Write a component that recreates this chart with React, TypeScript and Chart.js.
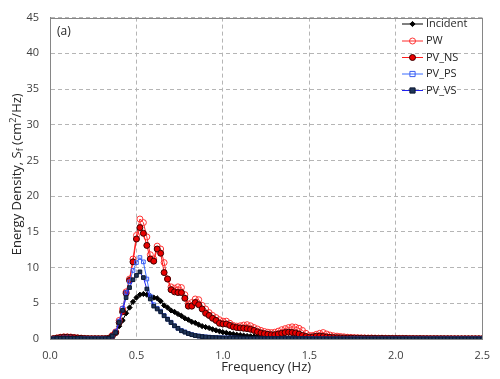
import React, { useEffect, useRef } from "react";
import { Chart, registerables } from "chart.js";

Chart.register(...registerables);

// Frequency bins: spectra sampled every 0.02 Hz starting at 0.02 Hz
const FREQ_STEP = 0.02;

const seriesNames = ["Incident", "PW", "PV_NS", "PV_PS", "PV_VS"];

const incident = [
  0.03, 0.08, 0.12, 0.15, 0.15, 0.14, 0.12, 0.1, 0.08, 0.06,
  0.05, 0.04, 0.04, 0.04, 0.04, 0.05, 0.08, 0.3, 0.9, 1.8,
  2.6, 3.6, 4.4, 5.2, 5.8, 6.2, 6.3, 6.2, 6.0, 5.8,
  5.7, 5.3, 4.7, 4.4, 4.0, 3.8, 3.5, 3.25, 2.9, 2.7,
  2.4, 2.26, 2.0, 1.8, 1.67, 1.54, 1.36, 1.22, 1.08, 0.95,
  0.86, 0.75, 0.68, 0.6, 0.55, 0.48, 0.42, 0.38, 0.34, 0.3,
  0.27, 0.24, 0.22, 0.2, 0.18, 0.17, 0.16, 0.15, 0.14, 0.13,
  0.12, 0.11, 0.1, 0.1, 0.09, 0.09, 0.08, 0.08, 0.08, 0.07,
  0.07, 0.07, 0.06, 0.06, 0.06, 0.06, 0.05, 0.05, 0.05, 0.05,
  0.05, 0.05, 0.04, 0.04, 0.04, 0.04, 0.04, 0.04, 0.04, 0.04,
  0.03, 0.03, 0.03, 0.03, 0.03, 0.03, 0.03, 0.03, 0.03, 0.03,
  0.03, 0.03, 0.03, 0.03, 0.03, 0.03, 0.03, 0.03, 0.03, 0.03,
  0.03, 0.03, 0.03, 0.03, 0.03,
];

const pw = [
  0.05, 0.15, 0.25, 0.3, 0.3, 0.28, 0.22, 0.16, 0.12, 0.08,
  0.06, 0.05, 0.05, 0.05, 0.05, 0.06, 0.1, 0.5, 1.0, 2.6,
  4.2, 6.6, 8.4, 11.2, 14.5, 16.8, 16.3, 14.3, 11.8, 11.2,
  13.0, 12.6, 10.7, 8.4, 7.3, 7.1, 7.3, 7.2, 6.2, 4.9,
  5.1, 5.6, 5.5, 4.7, 4.2, 3.7, 3.3, 3.0, 2.7, 2.5,
  2.5, 2.2, 1.9, 1.8, 1.85, 1.95, 2.0, 1.85, 1.6, 1.4,
  1.2, 1.05, 0.95, 0.9, 0.95, 1.1, 1.3, 1.45, 1.6, 1.7,
  1.65, 1.5, 1.2, 0.8, 0.5, 0.5, 0.65, 0.8, 0.9, 0.7,
  0.55, 0.45, 0.4, 0.35, 0.3, 0.25, 0.22, 0.2, 0.18, 0.16,
  0.15, 0.14, 0.14, 0.13, 0.12, 0.12, 0.11, 0.1, 0.1, 0.1,
  0.09, 0.09, 0.08, 0.08, 0.08, 0.07, 0.07, 0.07, 0.06, 0.06,
  0.06, 0.06, 0.05, 0.05, 0.05, 0.05, 0.05, 0.04, 0.04, 0.04,
  0.04, 0.04, 0.04, 0.04, 0.03,
];

const pvNS = [
  0.05, 0.12, 0.2, 0.25, 0.25, 0.22, 0.18, 0.14, 0.1, 0.07,
  0.05, 0.04, 0.04, 0.04, 0.04, 0.05, 0.1, 0.4, 0.9, 2.3,
  3.8, 6.4, 8.2, 10.8, 14.0, 15.6, 14.8, 13.1, 11.2, 10.9,
  12.6, 12.0, 9.3, 8.4, 6.9, 6.6, 6.5, 6.5, 5.7, 4.6,
  4.6, 5.1, 4.8, 4.2, 3.6, 3.3, 2.9, 2.6, 2.2, 2.1,
  2.1, 1.9, 1.7, 1.6, 1.55, 1.5, 1.45, 1.35, 1.2, 1.0,
  0.85, 0.75, 0.65, 0.6, 0.6, 0.7, 0.8, 0.9, 0.95, 0.9,
  0.85, 0.7, 0.5, 0.35, 0.25, 0.3, 0.4, 0.42, 0.35, 0.28,
  0.24, 0.2, 0.18, 0.16, 0.15, 0.14, 0.13, 0.12, 0.11, 0.1,
  0.1, 0.09, 0.09, 0.08, 0.08, 0.08, 0.07, 0.07, 0.07, 0.06,
  0.06, 0.06, 0.06, 0.05, 0.05, 0.05, 0.05, 0.05, 0.04, 0.04,
  0.04, 0.04, 0.04, 0.04, 0.04, 0.03, 0.03, 0.03, 0.03, 0.03,
  0.03, 0.03, 0.03, 0.03, 0.03,
];

const pvPS = [
  0.03, 0.08, 0.12, 0.14, 0.14, 0.12, 0.1, 0.08, 0.06, 0.05,
  0.04, 0.04, 0.04, 0.04, 0.04, 0.05, 0.08, 0.4, 1.0, 2.5,
  4.3, 6.5, 8.0, 9.6, 10.7, 11.4, 10.8, 8.4, 6.0, 4.8,
  4.3, 3.9, 3.3, 2.8, 2.35, 1.85, 1.5, 1.2, 1.0, 0.77,
  0.63, 0.5, 0.42, 0.36, 0.3, 0.26, 0.22, 0.2, 0.18, 0.16,
  0.15, 0.14, 0.13, 0.12, 0.11, 0.1, 0.1, 0.09, 0.09, 0.08,
  0.08, 0.07, 0.07, 0.07, 0.06, 0.06, 0.06, 0.06, 0.05, 0.05,
  0.05, 0.05, 0.05, 0.05, 0.05, 0.05, 0.04, 0.04, 0.04, 0.04,
  0.04, 0.04, 0.04, 0.04, 0.04, 0.04, 0.04, 0.04, 0.04, 0.04,
  0.03, 0.03, 0.03, 0.03, 0.03, 0.03, 0.03, 0.03, 0.03, 0.03,
  0.03, 0.03, 0.03, 0.03, 0.03, 0.03, 0.03, 0.03, 0.03, 0.03,
  0.03, 0.03, 0.03, 0.03, 0.03, 0.03, 0.03, 0.03, 0.03, 0.03,
  0.03, 0.03, 0.03, 0.03, 0.03,
];

const pvVS = [
  0.03, 0.07, 0.1, 0.12, 0.12, 0.1, 0.08, 0.07, 0.05, 0.04,
  0.04, 0.04, 0.04, 0.04, 0.04, 0.05, 0.08, 0.4, 0.9, 2.3,
  4.0, 5.8, 7.2, 8.3, 8.9, 9.4, 8.6, 7.0, 5.6, 4.6,
  4.2, 3.8, 3.25, 2.75, 2.3, 1.85, 1.5, 1.15, 0.95, 0.75,
  0.6, 0.48, 0.4, 0.34, 0.28, 0.24, 0.21, 0.19, 0.17, 0.15,
  0.14, 0.13, 0.12, 0.11, 0.1, 0.1, 0.09, 0.09, 0.08, 0.08,
  0.07, 0.07, 0.07, 0.06, 0.06, 0.06, 0.06, 0.05, 0.05, 0.05,
  0.05, 0.05, 0.05, 0.05, 0.04, 0.04, 0.04, 0.04, 0.04, 0.04,
  0.04, 0.04, 0.04, 0.04, 0.04, 0.04, 0.03, 0.03, 0.03, 0.03,
  0.03, 0.03, 0.03, 0.03, 0.03, 0.03, 0.03, 0.03, 0.03, 0.03,
  0.03, 0.03, 0.03, 0.03, 0.03, 0.03, 0.03, 0.03, 0.03, 0.03,
  0.03, 0.03, 0.03, 0.03, 0.03, 0.03, 0.03, 0.03, 0.03, 0.03,
  0.03, 0.03, 0.03, 0.03, 0.03,
];

const X_MIN = 0;
const X_MAX = 2.5;
const X_STEP = 0.5;
const Y_MIN = 0;
const Y_MAX = 45;
const Y_STEP = 5;

const panelLabel = "(a)";
const xTitle = "Frequency (Hz)";

const FONT = "'Open Sans', 'Noto Sans', sans-serif";
const TEXT_COLOR = "#262626";

function toPoints(vals: number[]) {
  return vals.map((v, i) => ({ x: Math.round(FREQ_STEP * (i + 1) * 100) / 100, y: v }));
}

type Sty = {
  line: string;
  style: "rectRot" | "circle" | "rect";
  r: number;
  fill: string;
  stroke: string;
};

const styles: Sty[] = [
  { line: "#000000", style: "rectRot", r: 2.6, fill: "#000000", stroke: "#000000" },
  { line: "#ff2a2a", style: "circle", r: 3, fill: "rgba(255,255,255,0)", stroke: "#ff3333" },
  { line: "#ff1a1a", style: "circle", r: 3, fill: "#e80000", stroke: "#3a0000" },
  { line: "#3a6cff", style: "rect", r: 2.6, fill: "rgba(255,255,255,0)", stroke: "#3a5cf0" },
  { line: "#2020ee", style: "rect", r: 2.6, fill: "#1f3558", stroke: "#0c1830" },
];

function drawMarker(ctx: CanvasRenderingContext2D, s: Sty, x: number, y: number) {
  ctx.save();
  ctx.fillStyle = s.fill;
  ctx.strokeStyle = s.stroke;
  ctx.lineWidth = 1;
  ctx.beginPath();
  if (s.style === "circle") {
    ctx.arc(x, y, s.r, 0, Math.PI * 2);
  } else if (s.style === "rect") {
    const h = s.r;
    ctx.rect(x - h, y - h, h * 2, h * 2);
  } else {
    ctx.moveTo(x, y - s.r);
    ctx.lineTo(x + s.r, y);
    ctx.lineTo(x, y + s.r);
    ctx.lineTo(x - s.r, y);
    ctx.closePath();
  }
  ctx.fill();
  ctx.stroke();
  ctx.restore();
}

const decorPlugin = {
  id: "decor",
  afterDraw(chart: any) {
    const ctx: CanvasRenderingContext2D = chart.ctx;
    const a = chart.chartArea;
    ctx.save();
    // frame
    ctx.strokeStyle = "#868686";
    ctx.lineWidth = 1;
    ctx.strokeRect(Math.round(a.left) + 0.5, Math.round(a.top) + 0.5, Math.round(a.right - a.left), Math.round(a.bottom - a.top));

    // panel label
    ctx.fillStyle = TEXT_COLOR;
    ctx.font = `12px ${FONT}`;
    ctx.textBaseline = "middle";
    ctx.textAlign = "left";
    ctx.fillText(panelLabel, a.left + 7, a.top + 14);

    // x title
    ctx.font = `13px ${FONT}`;
    ctx.textAlign = "center";
    ctx.fillText(xTitle, (a.left + a.right) / 2, 367);

    // y title with sub/superscripts
    const parts: { t: string; size: number; dy: number }[] = [
      { t: "Energy Density, S", size: 13, dy: 0 },
      { t: "f", size: 9, dy: 3 },
      { t: " (cm", size: 13, dy: 0 },
      { t: "2", size: 9, dy: -4 },
      { t: "/Hz)", size: 13, dy: 0 },
    ];
    let total = 0;
    const widths = parts.map((p) => {
      ctx.font = `${p.size}px ${FONT}`;
      const w = ctx.measureText(p.t).width;
      total += w;
      return w;
    });
    ctx.translate(17, (a.top + a.bottom) / 2 - 4);
    ctx.rotate(-Math.PI / 2);
    ctx.textAlign = "left";
    let cx = -total / 2;
    parts.forEach((p, i) => {
      ctx.font = `${p.size}px ${FONT}`;
      ctx.fillText(p.t, cx, p.dy);
      cx += widths[i];
    });
    ctx.restore();

    // legend
    ctx.save();
    const ys = [24, 41, 57.5, 74, 90.5];
    seriesNames.forEach((name, i) => {
      const s = styles[i];
      const y = ys[i];
      ctx.strokeStyle = s.line;
      ctx.lineWidth = 1;
      ctx.beginPath();
      ctx.moveTo(402, y);
      ctx.lineTo(423, y);
      ctx.stroke();
      drawMarker(ctx, s, 412.5, y);
      ctx.fillStyle = TEXT_COLOR;
      ctx.font = `11px ${FONT}`;
      ctx.textAlign = "left";
      ctx.textBaseline = "middle";
      ctx.fillText(name, 426, y);
    });
    ctx.restore();
  },
};

export default function App() {
  const ref = useRef<HTMLCanvasElement | null>(null);

  useEffect(() => {
    if (!ref.current) return;
    const all = [incident, pw, pvNS, pvPS, pvVS];
    const orders = [5, 4, 3, 2, 1];
    const datasets = all.map((vals, i) => {
      const s = styles[i];
      return {
        label: seriesNames[i],
        data: toPoints(vals),
        borderColor: s.line,
        borderWidth: 1,
        pointStyle: s.style,
        pointRadius: s.r,
        pointBackgroundColor: s.fill,
        pointBorderColor: s.stroke,
        pointBorderWidth: 1,
        fill: false,
        tension: 0,
        order: orders[i],
      };
    });

    const chart = new Chart(ref.current, {
      type: "line",
      data: { datasets },
      options: {
        animation: false,
        responsive: false,
        devicePixelRatio: 1,
        layout: { padding: { top: 7, right: 16, left: 0, bottom: 0 } },
        plugins: {
          legend: { display: false },
          tooltip: { enabled: false },
          title: { display: false },
        },
        scales: {
          x: {
            type: "linear",
            min: X_MIN,
            max: X_MAX,
            ticks: {
              stepSize: X_STEP,
              callback: (v: any) => Number(v).toFixed(1),
              font: { size: 11, family: FONT },
              color: "#404040",
              padding: 10,
              maxRotation: 0,
            },
            grid: { color: "#b5b5b5", lineWidth: 1, drawTicks: false },
            border: { color: "#868686", width: 1, dash: [4, 3] },
            afterFit: (s: any) => {
              s.height = 40;
            },
          },
          y: {
            type: "linear",
            min: Y_MIN,
            max: Y_MAX,
            ticks: {
              stepSize: Y_STEP,
              font: { size: 11, family: FONT },
              color: "#404040",
              padding: 11,
            },
            grid: { color: "#b5b5b5", lineWidth: 1, drawTicks: false },
            border: { color: "#868686", width: 1, dash: [4, 3] },
            afterFit: (s: any) => {
              s.width = 50;
            },
          },
        },
      } as any,
      plugins: [decorPlugin],
    });
    return () => chart.destroy();
  }, []);

  return (
    <div style={{ position: "fixed", left: 0, top: 0, width: 500, height: 379, background: "#fff" }}>
      <canvas ref={ref} width={500} height={379} style={{ width: 500, height: 379 }} />
    </div>
  );
}
